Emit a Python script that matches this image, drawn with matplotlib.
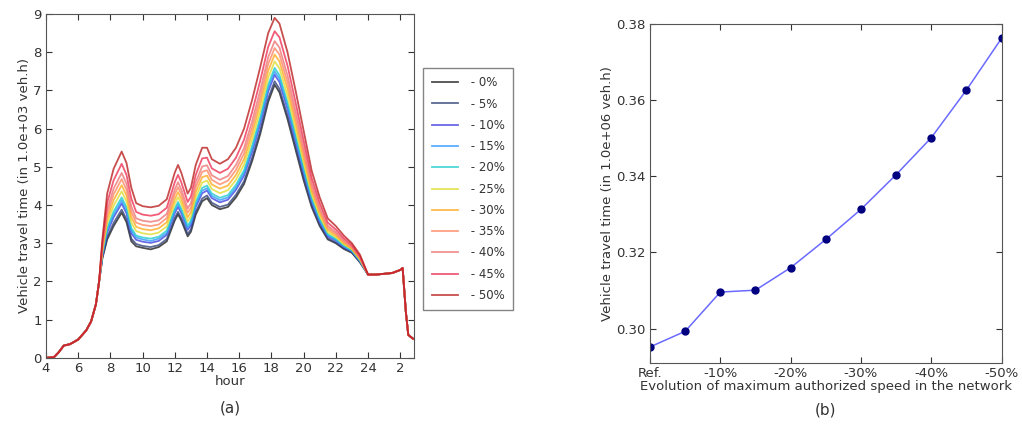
import matplotlib
matplotlib.use("Agg")
import matplotlib.pyplot as plt

# ---- (a) hourly vehicle travel time, one curve per speed reduction ----
labels = [" - 0%", " - 5%", " - 10%", " - 15%", " - 20%", " - 25%",
          " - 30%", " - 35%", " - 40%", " - 45%", " - 50%"]
colors = ["#222222", "#334477", "#4444dd", "#3399ff", "#22cccc", "#dddd33",
          "#ffaa22", "#ff8866", "#ee7777", "#ee3355", "#bb2222"]

early_hours = [4.0, 4.5, 4.8, 5.1, 5.5, 6.0, 6.5, 6.8, 7.1, 7.3]
early_vals = [0.0, 0.02, 0.15, 0.32, 0.36, 0.48, 0.72, 0.95, 1.4, 2.0]

mid_hours = [7.5, 7.8, 8.2, 8.7, 9.0, 9.3, 9.6, 10.0, 10.5, 11.0, 11.5, 12.0,
             12.2, 12.4, 12.8, 13.0, 13.3, 13.7, 14.0, 14.3, 14.8, 15.3, 15.8,
             16.3, 16.8, 17.3, 17.8, 18.2, 18.5, 19.0, 19.5, 20.0, 20.5, 21.0,
             21.5, 22.0, 22.5, 23.0, 23.5]

mid_vals = [
    # 0%
    [2.60, 3.10, 3.45, 3.80, 3.55, 3.05, 2.92, 2.88, 2.84, 2.90, 3.05, 3.60,
     3.76, 3.60, 3.18, 3.30, 3.75, 4.10, 4.18, 4.00, 3.89, 3.95, 4.20, 4.55,
     5.15, 5.85, 6.70, 7.15, 6.95, 6.25, 5.45, 4.65, 3.95, 3.45,
     3.10, 3.00, 2.85, 2.75, 2.50],
    # 5%
    [2.63, 3.16, 3.53, 3.88, 3.63, 3.12, 2.98, 2.93, 2.90, 2.95, 3.11, 3.66,
     3.82, 3.66, 3.24, 3.36, 3.82, 4.17, 4.25, 4.06, 3.95, 4.01, 4.27, 4.62,
     5.23, 5.94, 6.79, 7.24, 7.04, 6.34, 5.53, 4.72, 4.00, 3.49,
     3.13, 3.02, 2.87, 2.76, 2.51],
    # 10%
    [2.68, 3.28, 3.68, 4.04, 3.78, 3.26, 3.09, 3.04, 3.01, 3.06, 3.22, 3.79,
     3.95, 3.79, 3.35, 3.47, 3.95, 4.31, 4.38, 4.18, 4.07, 4.14, 4.40, 4.77,
     5.39, 6.11, 6.97, 7.41, 7.22, 6.51, 5.68, 4.85, 4.09, 3.56,
     3.18, 3.07, 2.90, 2.79, 2.53],
    # 15%
    [2.70, 3.34, 3.75, 4.12, 3.86, 3.33, 3.15, 3.10, 3.06, 3.12, 3.27, 3.85,
     4.02, 3.85, 3.40, 3.53, 4.01, 4.38, 4.44, 4.24, 4.13, 4.20, 4.46, 4.84,
     5.47, 6.20, 7.06, 7.50, 7.31, 6.60, 5.76, 4.91, 4.14, 3.60,
     3.21, 3.09, 2.92, 2.80, 2.54],
    # 20%
    [2.73, 3.40, 3.83, 4.20, 3.94, 3.40, 3.20, 3.15, 3.12, 3.17, 3.33, 3.91,
     4.08, 3.91, 3.46, 3.59, 4.08, 4.45, 4.51, 4.30, 4.19, 4.26, 4.53, 4.91,
     5.55, 6.29, 7.15, 7.59, 7.40, 6.69, 5.84, 4.98, 4.19, 3.64,
     3.24, 3.11, 2.94, 2.81, 2.55],
    # 25%
    [2.78, 3.52, 3.98, 4.36, 4.09, 3.54, 3.32, 3.26, 3.23, 3.28, 3.44, 4.04,
     4.21, 4.04, 3.57, 3.70, 4.21, 4.59, 4.64, 4.42, 4.31, 4.39, 4.66, 5.06,
     5.71, 6.46, 7.33, 7.76, 7.58, 6.86, 5.99, 5.11, 4.28, 3.71,
     3.29, 3.16, 2.97, 2.84, 2.57],
    # 30%
    [2.83, 3.64, 4.13, 4.52, 4.25, 3.68, 3.43, 3.37, 3.34, 3.39, 3.55, 4.16,
     4.34, 4.16, 3.68, 3.82, 4.34, 4.73, 4.77, 4.54, 4.43, 4.51, 4.79, 5.20,
     5.87, 6.64, 7.51, 7.94, 7.76, 7.04, 6.15, 5.24, 4.38, 3.79,
     3.35, 3.20, 3.01, 2.86, 2.59],
    # 35%
    [2.88, 3.76, 4.28, 4.68, 4.40, 3.82, 3.54, 3.48, 3.45, 3.49, 3.66, 4.29,
     4.47, 4.29, 3.80, 3.93, 4.47, 4.87, 4.91, 4.66, 4.54, 4.64, 4.92, 5.35,
     6.03, 6.81, 7.69, 8.11, 7.94, 7.21, 6.30, 5.37, 4.47, 3.86,
     3.40, 3.25, 3.04, 2.89, 2.61],
    # 40%
    [2.93, 3.88, 4.43, 4.84, 4.56, 3.96, 3.65, 3.59, 3.56, 3.60, 3.77, 4.41,
     4.60, 4.41, 3.91, 4.05, 4.60, 5.01, 5.04, 4.78, 4.66, 4.76, 5.05, 5.49,
     6.19, 6.99, 7.87, 8.29, 8.12, 7.39, 6.46, 5.50, 4.57, 3.94,
     3.46, 3.29, 3.08, 2.91, 2.63],
    # 45%
    [3.00, 4.06, 4.65, 5.08, 4.79, 4.17, 3.82, 3.75, 3.72, 3.76, 3.93, 4.60,
     4.79, 4.60, 4.08, 4.22, 4.79, 5.22, 5.24, 4.96, 4.84, 4.95, 5.24, 5.71,
     6.43, 7.25, 8.14, 8.55, 8.39, 7.65, 6.69, 5.69, 4.71, 4.05,
     3.54, 3.36, 3.13, 2.95, 2.66],
    # 50%
    [3.10, 4.30, 4.95, 5.40, 5.10, 4.45, 4.05, 3.97, 3.94, 3.98, 4.15, 4.85,
     5.05, 4.85, 4.30, 4.45, 5.05, 5.50, 5.50, 5.20, 5.08, 5.20, 5.50, 6.00,
     6.75, 7.60, 8.50, 8.90, 8.75, 8.00, 7.00, 5.95, 4.90, 4.20,
     3.65, 3.45, 3.20, 3.00, 2.70],
]

late_hours = [24.0, 24.5, 25.0, 25.5, 26.0, 26.15, 26.35, 26.5, 26.8]
late_vals = [2.18, 2.18, 2.20, 2.22, 2.30, 2.35, 1.20, 0.60, 0.50]

hour_ticks = [4, 6, 8, 10, 12, 14, 16, 18, 20, 22, 24, 26]
hour_labels = ["4", "6", "8", "10", "12", "14", "16", "18", "20", "22", "24", "2"]

# ---- (b) total travel time vs speed reduction ----
reduction = [0, 5, 10, 15, 20, 25, 30, 35, 40, 45, 50]
total_time = [0.2952, 0.2993, 0.3096, 0.3101, 0.3160, 0.3234, 0.3313,
              0.3404, 0.3501, 0.3626, 0.3762]
red_ticks = [0, 10, 20, 30, 40, 50]
red_labels = ["Ref.", "-10%", "-20%", "-30%", "-40%", "-50%"]

txt = "#333333"
plt.rcParams["font.family"] = "DejaVu Sans"
plt.rcParams["font.size"] = 9.5
plt.rcParams["text.color"] = txt
plt.rcParams["axes.labelcolor"] = txt
plt.rcParams["xtick.color"] = txt
plt.rcParams["ytick.color"] = txt
plt.rcParams["axes.edgecolor"] = "#555555"

fig = plt.figure(figsize=(10.22, 4.25), dpi=100)

ax1 = fig.add_axes([0.045, 0.158, 0.360, 0.809])
hours = early_hours + mid_hours + late_hours
for vals, lab, col in zip(mid_vals, labels, colors):
    ax1.plot(hours, early_vals + vals + late_vals, color=col, lw=1.3,
             alpha=0.8, label=lab)
ax1.set_xlim(4, 26.85)
ax1.set_ylim(0, 9)
ax1.set_xticks(hour_ticks)
ax1.set_xticklabels(hour_labels)
ax1.set_yticks(range(0, 10))
ax1.tick_params(direction="in", top=True, right=True, length=4, pad=3)
ax1.set_xlabel("hour", labelpad=0)
ax1.set_ylabel("Vehicle travel time (in 1.0e+03 veh.h)", labelpad=2)
ax1.text(0.5, -0.145, "(a)", transform=ax1.transAxes, ha="center",
         va="center", fontsize=11)
ax1.legend(loc="upper left", bbox_to_anchor=(1.01, 0.86), fontsize=8.5,
           frameon=True, fancybox=False, edgecolor="#666666",
           handlelength=2.2, labelspacing=0.7, borderpad=0.7)

ax2 = fig.add_axes([0.636, 0.146, 0.344, 0.798])
ax2.plot(reduction, total_time, color="#6a6aff", lw=1.1, marker="o",
         markersize=5, markerfacecolor="#000080", markeredgecolor="#000080")
ax2.set_xlim(0, 50)
ax2.set_ylim(0.291, 0.38)
ax2.set_xticks(red_ticks)
ax2.set_xticklabels(red_labels)
ax2.set_yticks([0.30, 0.32, 0.34, 0.36, 0.38])
ax2.set_yticklabels(["0.30", "0.32", "0.34", "0.36", "0.38"])
ax2.tick_params(direction="in", top=True, right=True, length=4, pad=3)
ax2.set_xlabel("Evolution of maximum authorized speed in the network",
               labelpad=0)
ax2.set_ylabel("Vehicle travel time (in 1.0e+06 veh.h)", labelpad=2)
ax2.text(0.5, -0.139, "(b)", transform=ax2.transAxes, ha="center",
         va="center", fontsize=11)

fig.savefig("out.png", dpi=100)
